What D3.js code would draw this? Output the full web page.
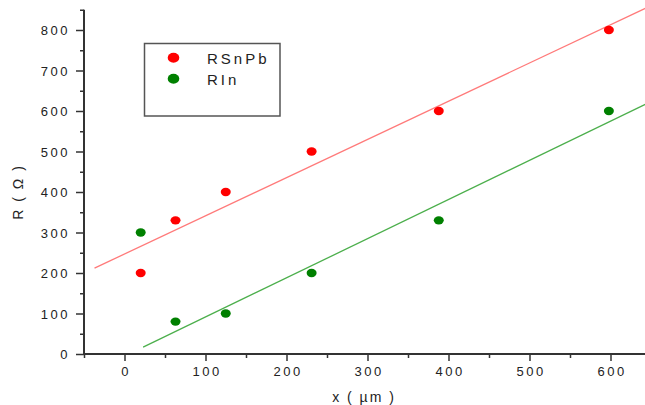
<!DOCTYPE html>
<html><head><meta charset="utf-8">
<script src="https://cdn.jsdelivr.net/npm/d3@7"></script>
<style>body{margin:0;background:#fff}svg{display:block}</style>
</head><body>
<svg id="c" width="645" height="405"></svg>
<script>
// data
const xSnPb = [20, 63, 125, 231, 388, 598];
const ySnPb = [200, 330, 400, 500, 600, 800];
const xIn = [20, 63, 125, 231, 388, 598];
const yIn = [300, 80, 100, 200, 330, 600];
// fitted lines (endpoints)
const fitSnPbX = [-37, 650];
const fitSnPbY = [212, 860];
const fitInX = [23, 650];
const fitInY = [17, 623];
const xTicks = [0, 100, 200, 300, 400, 500, 600];
const yTicks = [0, 100, 200, 300, 400, 500, 600, 700, 800];
const seriesNames = ["RSnPb", "RIn"];
const seriesColors = ["#ff0000", "#008000"];
const lineColors = ["#ff7a7a", "#4caf4c"];

const svg = d3.select("#c");
const x = d3.scaleLinear().domain([-50, 650]).range([84, 651]);
const y = d3.scaleLinear().domain([0, 850]).range([354, 9.75]);

const font = "'Liberation Sans', Arial, sans-serif";

// minor ticks
const xMinor = d3.range(-50, 651, 100);
const yMinor = d3.range(50, 851, 100);

const gx = svg.append("g").attr("transform", "translate(0,354)");
gx.call(d3.axisBottom(x).tickValues(xMinor).tickSize(4).tickFormat(""));
gx.call(g => g.append("g").call(d3.axisBottom(x).tickValues(xTicks).tickSize(7).tickFormat(d3.format("d"))));
gx.selectAll(".domain").remove();
gx.selectAll("line").attr("stroke", "#333").attr("stroke-width", 1.5);
gx.selectAll("text").attr("font-family", font).attr("font-size", 13).attr("fill", "#222")
  .attr("letter-spacing", "2.5px").attr("dy", null).attr("y", 22).attr("dx", "1.2px");

const gy = svg.append("g").attr("transform", "translate(84,0)");
gy.call(d3.axisLeft(y).tickValues(yMinor).tickSize(4).tickFormat(""));
gy.call(g => g.append("g").call(d3.axisLeft(y).tickValues(yTicks).tickSize(8).tickFormat(d3.format("d"))));
gy.selectAll(".domain").remove();
gy.selectAll("line").attr("stroke", "#333").attr("stroke-width", 1.5);
gy.selectAll("text").attr("font-family", font).attr("font-size", 13).attr("fill", "#222")
  .attr("letter-spacing", "2.5px").attr("x", -14).attr("dy", "0.35em");

// axis lines
svg.append("line").attr("x1", 84).attr("x2", 645).attr("y1", 354).attr("y2", 354)
  .attr("stroke", "#333").attr("stroke-width", 2);
svg.append("line").attr("x1", 84).attr("x2", 84).attr("y1", y(850)).attr("y2", 354)
  .attr("stroke", "#333").attr("stroke-width", 2);

// fit lines
const fits = [[fitSnPbX, fitSnPbY], [fitInX, fitInY]];
fits.forEach((f, i) => {
  svg.append("line").attr("x1", x(f[0][0])).attr("y1", y(f[1][0]))
    .attr("x2", x(f[0][1])).attr("y2", y(f[1][1]))
    .attr("stroke", lineColors[i]).attr("stroke-width", 1.3);
});

// points
const series = [[xSnPb, ySnPb], [xIn, yIn]];
series.forEach((s, i) => {
  svg.append("g").selectAll("ellipse").data(s[0]).join("ellipse")
    .attr("cx", (d) => x(d)).attr("cy", (d, j) => y(s[1][j]))
    .attr("rx", 5).attr("ry", 4.2).attr("fill", seriesColors[i]);
});

// axis titles
svg.append("text").attr("x", 364).attr("y", 402).attr("text-anchor", "middle")
  .attr("font-family", font).attr("font-size", 14).attr("fill", "#222")
  .attr("letter-spacing", "2px").text("x ( µm )");
svg.append("text").attr("transform", "translate(23,192) rotate(-90)").attr("text-anchor", "middle")
  .attr("font-family", font).attr("font-size", 14).attr("fill", "#222")
  .attr("letter-spacing", "2px").text("R ( Ω )");

// legend
svg.append("rect").attr("x", 144.5).attr("y", 43.5).attr("width", 135.5).attr("height", 72.5)
  .attr("fill", "none").attr("stroke", "#555").attr("stroke-width", 1.5);
seriesNames.forEach((n, i) => {
  svg.append("ellipse").attr("cx", 173.5).attr("cy", 57.8 + i * 21)
    .attr("rx", 5.8).attr("ry", 5).attr("fill", seriesColors[i]);
  svg.append("text").attr("x", 207).attr("y", 63.5 + i * 21)
    .attr("font-family", font).attr("font-size", 15).attr("fill", "#222")
    .attr("letter-spacing", "3px").text(n);
});
</script>
</body></html>
